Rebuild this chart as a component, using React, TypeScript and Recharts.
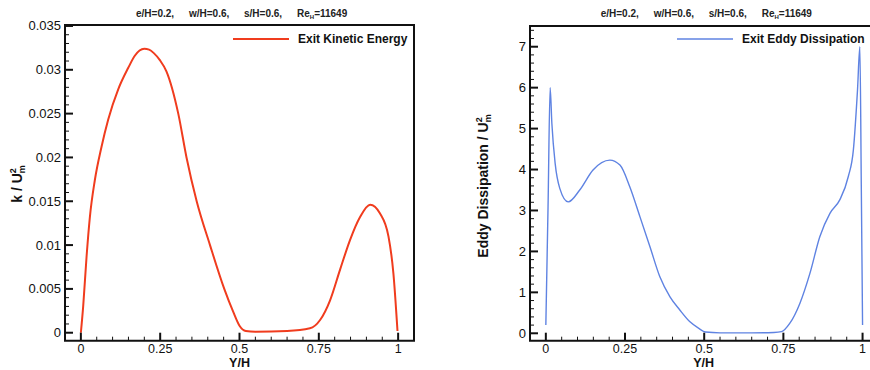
import React from 'react';
import { LineChart, Line, XAxis, YAxis, ReferenceArea, Legend, Label } from 'recharts';

// tick labels
const yhTicks = [0, 0.25, 0.5, 0.75, 1];
const yhLabels = ['0', '0.25', '0.5', '0.75', '1'];
const kTicks = [0, 0.005, 0.01, 0.015, 0.02, 0.025, 0.03, 0.035];
const kLabels = ['0', '0.005', '0.01', '0.015', '0.02', '0.025', '0.03', '0.035'];
const epsTicks = [0, 1, 2, 3, 4, 5, 6, 7];
const epsLabels = ['0', '1', '2', '3', '4', '5', '6', '7'];

// exit kinetic energy
const keYH = [0, 0.0073, 0.018, 0.0284, 0.044, 0.065, 0.086, 0.118, 0.149, 0.17, 0.185, 0.2, 0.215, 0.23, 0.249, 0.27, 0.307, 0.333, 0.365, 0.407, 0.452, 0.48, 0.5, 0.52, 0.55, 0.65, 0.722, 0.754, 0.7855, 0.817, 0.8486, 0.88, 0.9117, 0.943, 0.9695, 0.985, 0.998];
const keK = [0, 0.003, 0.0087, 0.0132, 0.0174, 0.0212, 0.0243, 0.0278, 0.0302, 0.0316, 0.0322, 0.0324, 0.0323, 0.0319, 0.0311, 0.0298, 0.025, 0.02, 0.015, 0.01, 0.005, 0.0024, 0.0008, 0.0002, 0.00012, 0.0002, 0.0005, 0.00145, 0.0037, 0.0072, 0.0106, 0.0132, 0.0146, 0.0136, 0.011, 0.0068, 0.0002];

// exit eddy dissipation
const edYH = [0, 0.007, 0.0136, 0.019, 0.0294, 0.044, 0.0705, 0.107, 0.149, 0.202, 0.234, 0.265, 0.297, 0.3285, 0.36, 0.392, 0.423, 0.455, 0.483, 0.504, 0.55, 0.65, 0.72, 0.744, 0.77, 0.802, 0.834, 0.865, 0.897, 0.928, 0.955, 0.971, 0.984, 0.9915, 0.996, 1.0];
const edE = [0.2, 3.1, 6.0, 5.13, 4.15, 3.54, 3.21, 3.5, 3.99, 4.23, 4.11, 3.58, 2.85, 2.12, 1.38, 0.89, 0.57, 0.28, 0.12, 0.03, 0.01, 0.01, 0.02, 0.04, 0.24, 0.73, 1.47, 2.36, 2.93, 3.26, 3.83, 4.48, 5.94, 7.0, 3.6, 0.2];

const keData = keYH.map((yh, i) => ({ yh, k: keK[i] }));
const edData = edYH.map((yh, i) => ({ yh, eps: edE[i] }));

const FONT = '"Liberation Sans", Arial, Helvetica, sans-serif';
const INK = '#111';
const RED = '#f03c1e';
const BLUE = '#5f83e2';

const X_DOMAIN: [number, number] = [-0.05, 1.05];
const K_DOMAIN: [number, number] = [-0.00091, 0.03511];
const E_DOMAIN: [number, number] = [-0.181, 7.506];

const steps = (from: number, to: number, step: number) => {
  const out: number[] = [];
  for (let v = from; v <= to + step / 2; v += step) out.push(+v.toFixed(6));
  return out;
};
const xMinor = steps(0, 1, 0.05);
const kMinor = steps(0, 0.035, 0.001);
const eMinor = steps(0, 7.4, 0.2);

const findMajor = (majors: number[], v: number) => majors.findIndex((m) => Math.abs(m - v) < 1e-7);

const XTick = (props: any) => {
  const { x, y, payload } = props;
  const i = findMajor(yhTicks, payload.value);
  const major = i >= 0;
  return (
    <g>
      <line x1={x} x2={x} y1={y} y2={y - (major ? 8 : 4)} stroke={INK} strokeWidth={major ? 2 : 1} />
      {major && (
        <text x={x} y={y + 12} textAnchor="middle" fontSize={12.5} fontFamily={FONT} fill={INK}>
          {yhLabels[i]}
        </text>
      )}
    </g>
  );
};

const makeYTick = (majors: number[], labels: string[]) => (props: any) => {
  const { x, y, payload } = props;
  const i = findMajor(majors, payload.value);
  const major = i >= 0;
  return (
    <g>
      <line x1={x} x2={x + (major ? 8 : 4)} y1={y} y2={y} stroke={INK} strokeWidth={major ? 2 : 1} />
      {major && (
        <text x={x - 4} y={y + 4.5} textAnchor="end" fontSize={13} fontFamily={FONT} fill={INK}>
          {labels[i]}
        </text>
      )}
    </g>
  );
};
const KTick = makeYTick(kTicks, kLabels);
const ETick = makeYTick(epsTicks, epsLabels);

const YTitle = ({ cx, cy, main }: { cx: number; cy: number; main: string }) => (
  <text
    x={cx}
    y={cy + 5}
    transform={`rotate(-90 ${cx} ${cy})`}
    textAnchor="middle"
    fontSize={14}
    fontWeight="bold"
    fontFamily={FONT}
    fill={INK}
  >
    {main}
    <tspan fontSize={9} dy={-6}>2</tspan>
    <tspan fontSize={9} dx={-5} dy={9}>m</tspan>
  </text>
);

const XTitle = ({ cx }: { cx: number }) => (
  <text x={cx} y={367} textAnchor="middle" fontSize={12.5} fontWeight="bold" fontFamily={FONT} fill={INK}>
    Y/H
  </text>
);

const legendBox = (label: string, color: string, w: number) => () => (
  <div style={{ display: 'flex', alignItems: 'center', height: 14 }}>
    <svg width={56} height={4} style={{ display: 'block' }}>
      <line x1={0} x2={56} y1={2} y2={2} stroke={color} strokeWidth={w} />
    </svg>
    <span style={{ marginLeft: 9, font: `bold 12px ${FONT}`, color: INK, lineHeight: '14px', whiteSpace: 'nowrap' }}>
      {label}
    </span>
  </div>
);

const titleParts = ['e/H=0.2,', 'w/H=0.6,', 's/H=0.6,'];
const titleOffsets = [0, 53, 108, 161];

const Title = ({ left }: { left: number }) => (
  <div style={{ position: 'absolute', top: 9, left: 0, font: `bold 10px ${FONT}`, color: '#222', lineHeight: '10px' }}>
    {titleParts.map((t, i) => (
      <span key={t} style={{ position: 'absolute', left: left + titleOffsets[i], whiteSpace: 'nowrap' }}>
        {t}
      </span>
    ))}
    <span style={{ position: 'absolute', left: left + titleOffsets[3], whiteSpace: 'nowrap' }}>
      Re<span style={{ fontSize: 6, position: 'relative', top: 2 }}>H</span>=11649
    </span>
  </div>
);

export default function App() {
  return (
    <div style={{ position: 'absolute', left: 0, top: 0, width: 870, height: 370, overflow: 'hidden', background: '#fff' }}>
      <div style={{ position: 'absolute', left: 0, top: 0 }}>
        <LineChart width={435} height={370} data={keData} margin={{ top: 25, right: 21, bottom: 28.3, left: 64 }}>
          <XAxis
            dataKey="yh"
            type="number"
            domain={X_DOMAIN}
            allowDataOverflow
            ticks={xMinor}
            interval={0}
            tick={<XTick />}
            tickLine={false}
            axisLine={false}
            tickSize={0}
            tickMargin={0}
            height={1}
          >
            <Label content={() => <XTitle cx={239.5} />} />
          </XAxis>
          <YAxis
            type="number"
            domain={K_DOMAIN}
            allowDataOverflow
            ticks={kMinor}
            interval={0}
            tick={<KTick />}
            tickLine={false}
            axisLine={false}
            tickSize={0}
            tickMargin={0}
            width={1}
          >
            <Label content={() => <YTitle cx={17} cy={184} main="k / U" />} />
          </YAxis>
          <ReferenceArea x1={X_DOMAIN[0]} x2={X_DOMAIN[1]} y1={K_DOMAIN[0]} y2={K_DOMAIN[1]} fill="none" stroke={INK} strokeWidth={2} fillOpacity={0} />
          <Legend
            layout="horizontal"
            verticalAlign="middle"
            align="center"
            content={legendBox('Exit Kinetic Energy', RED, 2)}
            wrapperStyle={{ top: 31.5, left: 233, width: 'auto', height: 'auto' }}
          />
          <Line type="monotone" dataKey="k" stroke={RED} strokeWidth={2} dot={false} isAnimationActive={false} />
        </LineChart>
        <Title left={136} />
      </div>
      <div style={{ position: 'absolute', left: 435, top: 0 }}>
        <LineChart width={450} height={370} data={edData} margin={{ top: 26, right: 6.6, bottom: 28.3, left: 94 }}>
          <XAxis
            dataKey="yh"
            type="number"
            domain={X_DOMAIN}
            allowDataOverflow
            ticks={xMinor}
            interval={0}
            tick={<XTick />}
            tickLine={false}
            axisLine={false}
            tickSize={0}
            tickMargin={0}
            height={1}
          >
            <Label content={() => <XTitle cx={268.7} />} />
          </XAxis>
          <YAxis
            type="number"
            domain={E_DOMAIN}
            allowDataOverflow
            ticks={eMinor}
            interval={0}
            tick={<ETick />}
            tickLine={false}
            axisLine={false}
            tickSize={0}
            tickMargin={0}
            width={1}
          >
            <Label content={() => <YTitle cx={48} cy={186} main="Eddy Dissipation / U" />} />
          </YAxis>
          <ReferenceArea x1={X_DOMAIN[0]} x2={X_DOMAIN[1]} y1={E_DOMAIN[0]} y2={E_DOMAIN[1]} fill="none" stroke={INK} strokeWidth={2} fillOpacity={0} />
          <Legend
            layout="horizontal"
            verticalAlign="middle"
            align="center"
            content={legendBox('Exit Eddy Dissipation', BLUE, 1.4)}
            wrapperStyle={{ top: 32, left: 242, width: 'auto', height: 'auto' }}
          />
          <Line type="monotone" dataKey="eps" stroke={BLUE} strokeWidth={1.4} dot={false} isAnimationActive={false} />
        </LineChart>
        <Title left={165.7} />
      </div>
    </div>
  );
}
